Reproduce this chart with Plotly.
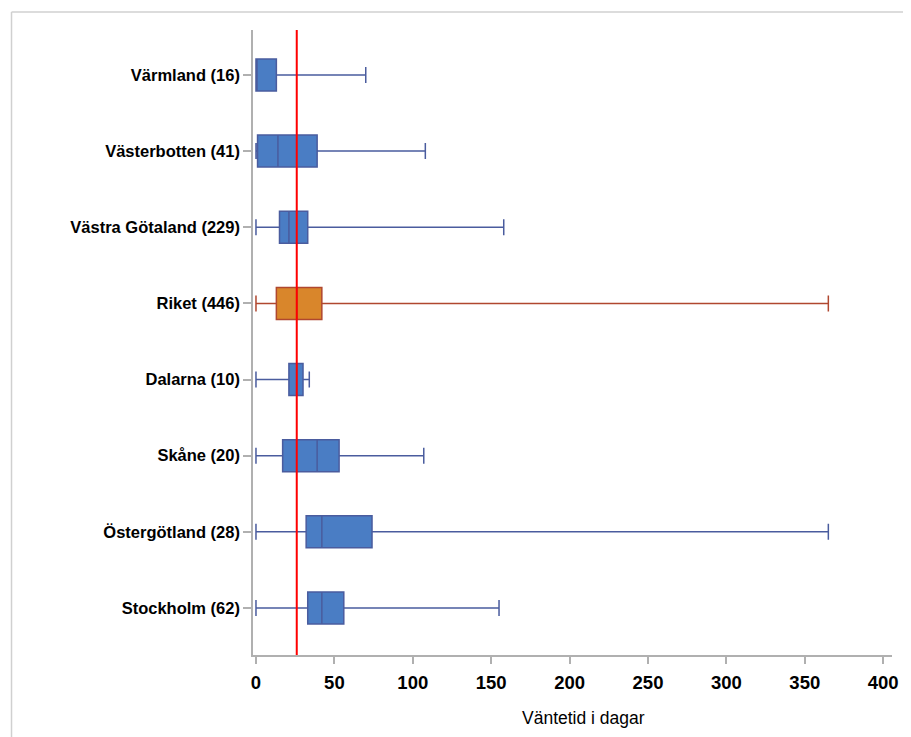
import plotly.graph_objects as go

# Categories (top to bottom as shown)
categories = ["Värmland (16)", "Västerbotten (41)", "Västra Götaland (229)", "Riket (446)",
              "Dalarna (10)", "Skåne (20)", "Östergötland (28)", "Stockholm (62)"]
minimum = [0, 0, 0, 0, 0, 0, 0, 0]
q1 = [0, 1, 15, 13, 21, 17, 32, 33]
median = [0, 14, 21, 26, 26, 39, 42, 42]
q3 = [13, 39, 33, 42, 30, 53, 74, 56]
maximum = [70, 108, 158, 365, 34, 107, 365, 155]
reference_value = 26
x_ticks = [0, 50, 100, 150, 200, 250, 300, 350, 400]
x_title = "Väntetid i dagar"

highlight = "Riket (446)"

fig = go.Figure()
for i, cat in enumerate(categories):
    is_hl = cat == highlight
    fig.add_trace(go.Box(
        y=[cat], q1=[q1[i]], median=[median[i]], q3=[q3[i]],
        lowerfence=[minimum[i]], upperfence=[maximum[i]],
        orientation="h", boxpoints=False, width=0.42, whiskerwidth=0.5,
        fillcolor="#d9862b" if is_hl else "#4a7dc4",
        line=dict(color="#b0472f" if is_hl else "#4a5c9e", width=1.5),
        showlegend=False, hoverinfo="skip",
    ))

fig.add_shape(type="line", xref="x", yref="paper", x0=reference_value, x1=reference_value,
              y0=0, y1=1, line=dict(color="red", width=2), layer="above")

# outer frame (top and left edges visible)
W, H = 903, 729
L, R, T, B = 245, 15, 22, 82
pw, ph = W - L - R, H - T - B
fx = (2 - L) / pw
fy = (H - B - 4) / ph
fig.add_shape(type="line", xref="paper", yref="paper", x0=fx, x1=1.1, y0=fy, y1=fy,
              line=dict(color="#d0d0d0", width=1.5))
fig.add_shape(type="line", xref="paper", yref="paper", x0=fx, x1=fx, y0=fy, y1=-0.2,
              line=dict(color="#d0d0d0", width=1.5))

fig.add_annotation(text=x_title, xref="paper", yref="paper",
                   x=(578 - L) / pw, y=-63 / ph, xanchor="center", yanchor="middle",
                   showarrow=False, font=dict(size=17.5, color="black"))

fig.update_layout(
    width=W, height=H,
    margin=dict(l=L, r=R, t=T, b=B),
    paper_bgcolor="white", plot_bgcolor="white",
    boxmode="overlay",
    font=dict(family="Liberation Sans, Arial, sans-serif", color="black"),
    xaxis=dict(
        range=[-1.9, 405.6], tickvals=x_ticks, ticktext=[str(v) for v in x_ticks],
        showgrid=False, zeroline=False, showline=True, linecolor="#b0b0b0", linewidth=1.5,
        ticks="outside", ticklen=7, tickcolor="#b0b0b0", tickwidth=1.5,
        tickfont=dict(size=18.5, weight="bold", color="black"), ticklabelstandoff=3,
    ),
    yaxis=dict(
        type="category", categoryorder="array", categoryarray=categories[::-1],
        range=[-0.617, 7.59],
        showgrid=False, zeroline=False, showline=True, linecolor="#b0b0b0", linewidth=1.5,
        ticks="outside", ticklen=8, tickcolor="#b0b0b0", tickwidth=1.5,
        tickfont=dict(size=16.5, weight="bold", color="black"),
    ),
)

fig.write_html("out.html")
